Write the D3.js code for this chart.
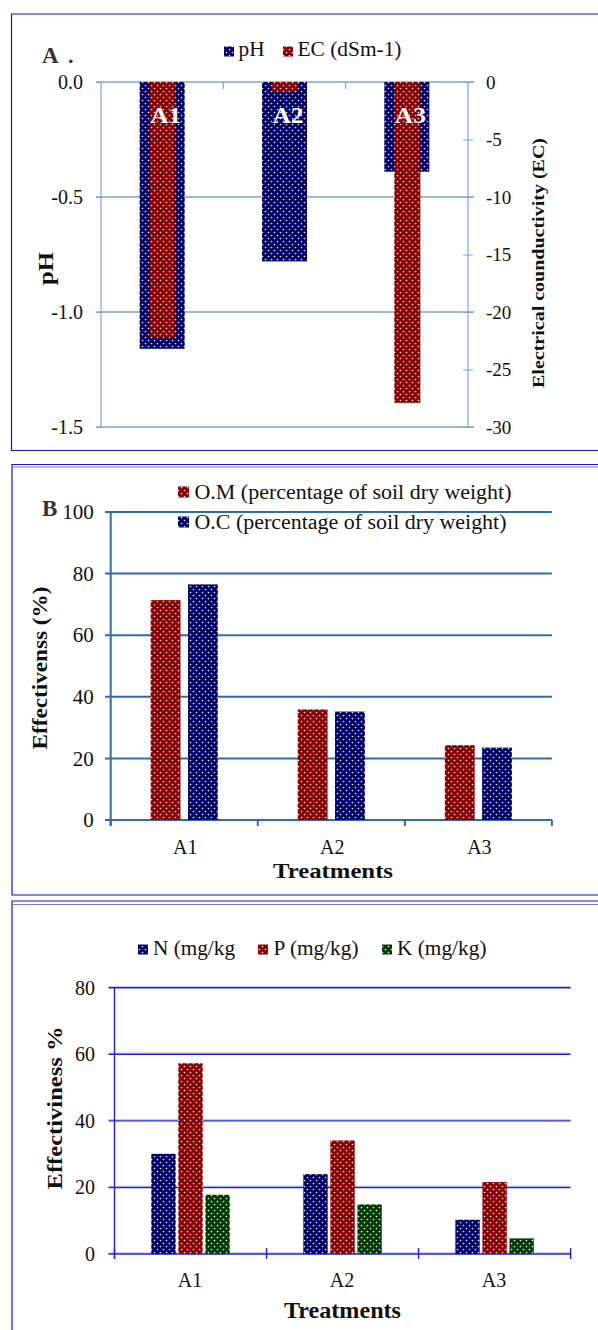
<!DOCTYPE html>
<html><head><meta charset="utf-8">
<script src="https://cdn.jsdelivr.net/npm/d3@7"></script>
<style>
body{margin:0;background:#fff}
svg{display:block}
text{font-family:"Liberation Serif","Times New Roman",serif;fill:#111}
</style>
</head><body>
<svg id="c" width="598" height="1330"></svg>
<script>
// ---------- data ----------
const treatments = ["A1","A2","A3"];
// Panel A
const phValues = [-1.16, -0.78, -0.39];
const ecValues = [-22.2, -0.85, -27.9];
const phTicks = [0, -0.5, -1.0, -1.5];
const ecTicks = [0, -5, -10, -15, -20, -25, -30];
// Panel B
const omValues = [71.4, 35.9, 24.3];
const ocValues = [76.5, 35.2, 23.5];
const bTicks = [0, 20, 40, 60, 80, 100];
// Panel C
const nValues = [30.1, 24.0, 10.3];
const pValues = [57.3, 34.1, 21.6];
const kValues = [17.8, 14.9, 4.7];
const cTicks = [0, 20, 40, 60, 80];

const NAVY = "#00006e", RED = "#8e0000", GREEN = "#003c00";
const svg = d3.select("#c");
const defs = svg.append("defs");
function makePattern(id, color){
  const p = defs.append("pattern").attr("id", id)
    .attr("patternUnits","userSpaceOnUse").attr("width",6).attr("height",6);
  p.append("rect").attr("width",6).attr("height",6).attr("fill",color);
  p.append("circle").attr("cx",1.5).attr("cy",1.5).attr("r",0.85).attr("fill","#e6e6ee");
  p.append("circle").attr("cx",4.5).attr("cy",4.5).attr("r",0.85).attr("fill","#e6e6ee");
}
makePattern("pNavy", NAVY); makePattern("pRed", RED); makePattern("pGreen", GREEN);

const BORDER = "#1414cc", BORDER2 = "#7a7ae4";
function fitText(sel, len){ return sel.attr("textLength",len).attr("lengthAdjust","spacingAndGlyphs"); }

// ================= PANEL A =================
{
  const g = svg.append("g");
  g.append("path").attr("d","M598,14H11.5V450.5H598").attr("fill","none").attr("stroke",BORDER).attr("stroke-width",1.2);

  const x = d3.scaleBand().domain(treatments).range([101,468]);
  const yPh = d3.scaleLinear().domain([-1.5,0]).range([427,82]);
  const yEc = d3.scaleLinear().domain([-30,0]).range([427,82]);
  const bw = x.bandwidth();

  g.selectAll(".grid").data(phTicks).join("line")
    .attr("x1",96).attr("x2",474).attr("y1",d=>yPh(d)).attr("y2",d=>yPh(d))
    .attr("stroke","#4077b8").attr("stroke-width",1);
  g.append("line").attr("x1",101).attr("x2",101).attr("y1",82).attr("y2",427).attr("stroke","#7ea6d6").attr("stroke-width",1.2);
  g.append("line").attr("x1",468).attr("x2",468).attr("y1",82).attr("y2",427).attr("stroke","#7ea6d6").attr("stroke-width",1.2);

  g.selectAll(".ct").data(treatments.slice(1)).join("line")
    .attr("x1",d=>x(d)).attr("x2",d=>x(d)).attr("y1",82).attr("y2",89)
    .attr("stroke","#7ea6d6").attr("stroke-width",1.2);

  const la = g.append("g").attr("transform","translate(101,0)")
    .call(d3.axisLeft(yPh).tickValues(phTicks).tickSize(5).tickPadding(13).tickFormat(d=>d.toFixed(1)));
  la.select(".domain").remove();
  la.selectAll("line").attr("stroke","#7ea6d6");
  la.selectAll("text").attr("font-size",20).attr("font-family","Liberation Serif").attr("fill","#111");

  const ra = g.append("g").attr("transform","translate(468,0)")
    .call(d3.axisRight(yEc).tickValues(ecTicks).tickSize(5).tickPadding(13).tickFormat(d=>String(d)));
  ra.select(".domain").remove();
  ra.selectAll("line").attr("x1",-5).attr("stroke","#7ea6d6");
  ra.selectAll("text").attr("font-size",19).attr("font-family","Liberation Serif").attr("fill","#111");

  const wPh = bw*0.368, wEc = bw*0.213;
  g.selectAll(".ph").data(phValues).join("rect")
    .attr("x",(d,i)=>x(treatments[i])+bw/2-wPh/2).attr("width",wPh)
    .attr("y",yPh(0)).attr("height",d=>yPh(d)-yPh(0)).attr("fill","url(#pNavy)");
  g.selectAll(".ec").data(ecValues).join("rect")
    .attr("x",(d,i)=>x(treatments[i])+bw/2-wEc/2+0.5).attr("width",wEc)
    .attr("y",yEc(0)).attr("height",d=>yEc(d)-yEc(0)).attr("fill","url(#pRed)");

  fitText(g.selectAll(".bl").data(treatments).join("text")
    .attr("x",d=>x(d)+bw/2+3.5).attr("y",123).attr("text-anchor","middle")
    .attr("font-size",23).attr("font-weight","bold").style("fill","#fff").text(d=>d), 31);

  g.append("rect").attr("x",224).attr("y",46.5).attr("width",10).attr("height",10).attr("fill","url(#pNavy)");
  fitText(g.append("text").attr("x",238.5).attr("y",56).attr("font-size",20).text("pH"), 26);
  g.append("rect").attr("x",283).attr("y",46.5).attr("width",10).attr("height",10).attr("fill","url(#pRed)");
  fitText(g.append("text").attr("x",297.5).attr("y",56).attr("font-size",20).text("EC (dSm-1)"), 104);

  g.append("text").attr("x",42).attr("y",63).attr("font-size",23).attr("font-weight","bold").style("fill","#333").text("A");
  g.append("text").attr("x",68).attr("y",63).attr("font-size",22).attr("font-weight","bold").style("fill","#333").text(".");

  fitText(g.append("text").attr("transform","translate(53,268.5) rotate(-90)").attr("text-anchor","middle")
    .attr("font-size",22).attr("font-weight","bold").text("pH"), 33);
  fitText(g.append("text").attr("transform","translate(544,263) rotate(-90)").attr("text-anchor","middle")
    .attr("font-size",17).attr("font-weight","bold").text("Electrical counductivity (EC)"), 250);
}

// ================= PANEL B =================
{
  const g = svg.append("g");
  g.append("path").attr("d","M598,464.5H12V895H598").attr("fill","none").attr("stroke",BORDER).attr("stroke-width",1.2);
  g.append("line").attr("x1",12).attr("x2",598).attr("y1",467).attr("y2",467).attr("stroke",BORDER2).attr("stroke-width",1.2);

  const x = d3.scaleBand().domain(treatments).range([110.7,551.9]);
  const y = d3.scaleLinear().domain([0,100]).range([820,512]);
  const bw = x.bandwidth();
  const inner = d3.scaleBand().domain(["om","oc"]).range([bw/2-bw*0.228, bw/2+bw*0.228]).paddingInner(0.2);
  const GC = "#2f6daa";

  g.selectAll(".grid").data(bTicks).join("line")
    .attr("x1",105).attr("x2",551.9).attr("y1",d=>y(d)).attr("y2",d=>y(d))
    .attr("stroke",GC).attr("stroke-width",2);
  g.append("line").attr("x1",110.7).attr("x2",110.7).attr("y1",512).attr("y2",826).attr("stroke",GC).attr("stroke-width",2);
  g.selectAll(".ct").data(treatments.concat(["end"])).join("line")
    .attr("x1",(d,i)=>i<3?x(d):551.9).attr("x2",(d,i)=>i<3?x(d):551.9).attr("y1",820).attr("y2",826)
    .attr("stroke",GC).attr("stroke-width",2);

  const la = g.append("g").attr("transform","translate(110.7,0)")
    .call(d3.axisLeft(y).tickValues(bTicks).tickSize(0).tickPadding(17).tickFormat(d=>String(d)));
  la.select(".domain").remove();
  la.selectAll("text").attr("font-size",21).attr("font-family","Liberation Serif").attr("fill","#111");

  g.selectAll(".om").data(omValues).join("rect")
    .attr("x",(d,i)=>x(treatments[i])+inner("om")).attr("width",inner.bandwidth())
    .attr("y",d=>y(d)).attr("height",d=>y(0)-y(d)).attr("fill","url(#pRed)");
  g.selectAll(".oc").data(ocValues).join("rect")
    .attr("x",(d,i)=>x(treatments[i])+inner("oc")).attr("width",inner.bandwidth())
    .attr("y",d=>y(d)).attr("height",d=>y(0)-y(d)).attr("fill","url(#pNavy)");

  g.selectAll(".xl").data(treatments).join("text")
    .attr("x",d=>x(d)+bw/2+1).attr("y",853.5).attr("text-anchor","middle").attr("font-size",20).text(d=>d);
  fitText(g.append("text").attr("x",333).attr("y",877.5).attr("text-anchor","middle")
    .attr("font-size",22).attr("font-weight","bold").text("Treatments"), 120);

  g.append("rect").attr("x",178).attr("y",486.5).attr("width",11).attr("height",11).attr("fill","url(#pRed)");
  fitText(g.append("text").attr("x",194.5).attr("y",498.5).attr("font-size",20).text("O.M (percentage of soil dry weight)"), 317);
  g.append("rect").attr("x",178).attr("y",516.5).attr("width",11).attr("height",11).attr("fill","url(#pNavy)");
  fitText(g.append("text").attr("x",194.5).attr("y",528.5).attr("font-size",20).text("O.C (percentage of soil dry weight)"), 312);

  g.append("text").attr("x",42).attr("y",516).attr("font-size",23).attr("font-weight","bold").style("fill","#333").text("B");
  fitText(g.append("text").attr("transform","translate(47,668) rotate(-90)").attr("text-anchor","middle")
    .attr("font-size",22).attr("font-weight","bold").text("Effectivenss (%)"), 163);
}

// ================= PANEL C =================
{
  const g = svg.append("g");
  g.append("path").attr("d","M598,901H12V1330").attr("fill","none").attr("stroke",BORDER).attr("stroke-width",1.2);
  g.append("line").attr("x1",12).attr("x2",598).attr("y1",904.5).attr("y2",904.5).attr("stroke",BORDER2).attr("stroke-width",1.2);

  const x = d3.scaleBand().domain(treatments).range([114.5,570.6]);
  const y = d3.scaleLinear().domain([0,80]).range([1254,987.7]);
  const bw = x.bandwidth();
  const inner = d3.scaleBand().domain(["N","P","K"]).range([bw/2-bw*0.258, bw/2+bw*0.258]).paddingInner(0.1);
  const GC = "#2222cc";

  g.selectAll(".gridl").data(cTicks).join("line")
    .attr("x1",108.5).attr("x2",570.6).attr("y1",d=>y(d)-1.3).attr("y2",d=>y(d)-1.3)
    .attr("stroke","#c4c4f2").attr("stroke-width",1);
  g.selectAll(".grid").data(cTicks).join("line")
    .attr("x1",108.5).attr("x2",570.6).attr("y1",d=>y(d)).attr("y2",d=>y(d))
    .attr("stroke",GC).attr("stroke-width",1.4);
  g.append("line").attr("x1",114.5).attr("x2",114.5).attr("y1",987.7).attr("y2",1259).attr("stroke",GC).attr("stroke-width",1.4);
  g.selectAll(".ct").data(treatments.concat(["end"])).join("line")
    .attr("x1",(d,i)=>i<3?x(d):570.6).attr("x2",(d,i)=>i<3?x(d):570.6).attr("y1",1248).attr("y2",1259)
    .attr("stroke",GC).attr("stroke-width",1.4);

  const la = g.append("g").attr("transform","translate(114.5,0)")
    .call(d3.axisLeft(y).tickValues(cTicks).tickSize(0).tickPadding(19.5).tickFormat(d=>String(d)));
  la.select(".domain").remove();
  la.selectAll("text").attr("font-size",20).attr("font-family","Liberation Serif").attr("fill","#111");

  const series = [["N",nValues,"url(#pNavy)"],["P",pValues,"url(#pRed)"],["K",kValues,"url(#pGreen)"]];
  series.forEach(([key,vals,fill])=>{
    g.selectAll(".b"+key).data(vals).join("rect")
      .attr("x",(d,i)=>x(treatments[i])+inner(key)).attr("width",inner.bandwidth())
      .attr("y",d=>y(d)).attr("height",d=>y(0)-y(d)).attr("fill",fill);
  });

  g.selectAll(".xl").data(treatments).join("text")
    .attr("x",d=>x(d)+bw/2-0.5).attr("y",1287).attr("text-anchor","middle").attr("font-size",20).text(d=>d);
  fitText(g.append("text").attr("x",342.5).attr("y",1318).attr("text-anchor","middle")
    .attr("font-size",24).attr("font-weight","bold").text("Treatments"), 117);

  const leg = [["N (mg/kg","url(#pNavy)",138,153,82],["P (mg/kg)","url(#pRed)",258,273.5,85],["K (mg/kg)","url(#pGreen)",382,397,89.5]];
  leg.forEach(([t,f,sx,tx,len])=>{
    g.append("rect").attr("x",sx).attr("y",944.5).attr("width",10).attr("height",10).attr("fill",f);
    fitText(g.append("text").attr("x",tx).attr("y",955).attr("font-size",20).text(t), len);
  });

  fitText(g.append("text").attr("transform","translate(62,1108) rotate(-90)").attr("text-anchor","middle")
    .attr("font-size",22).attr("font-weight","bold").text("Effectiviness %"), 163);
}
</script>
</body></html>
